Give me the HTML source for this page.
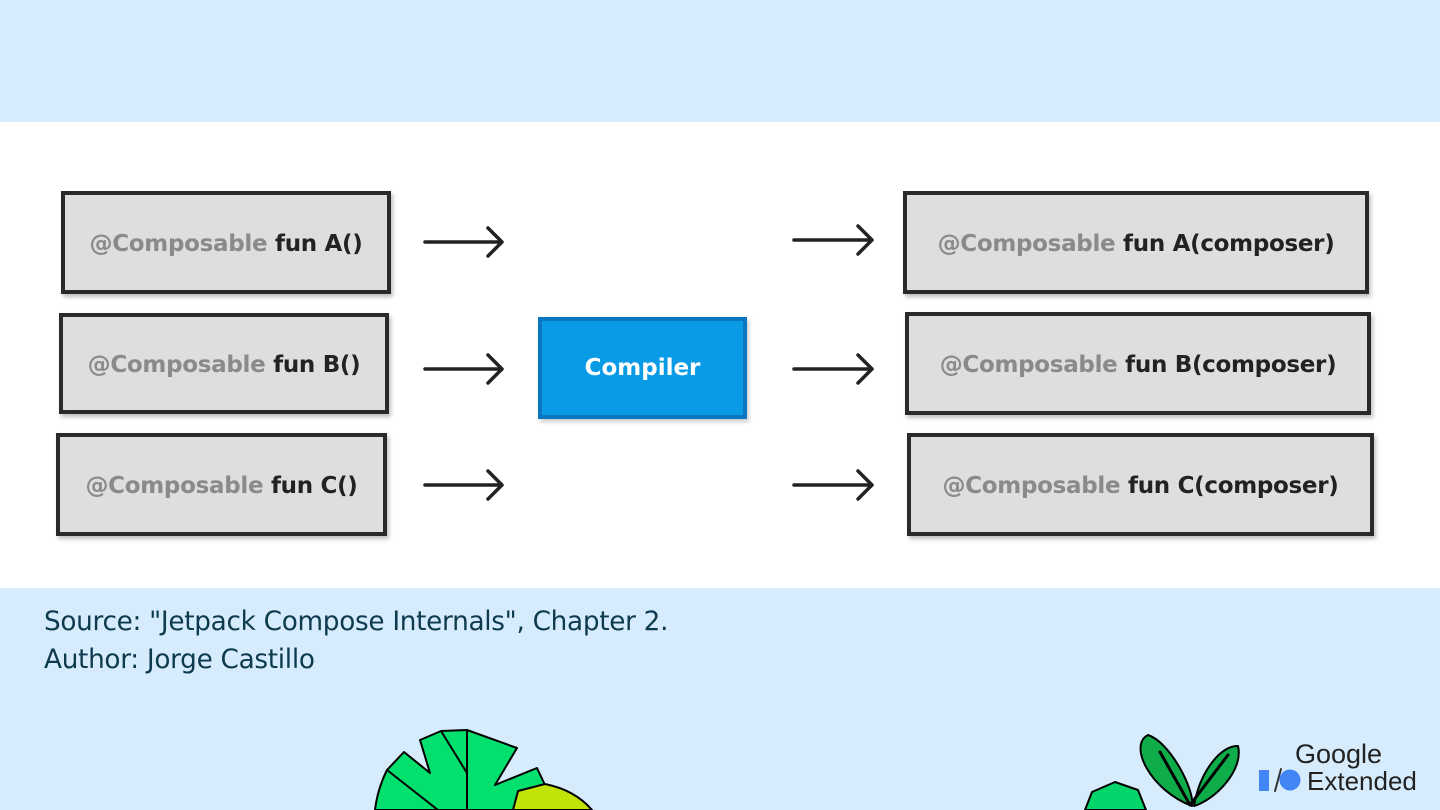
<!DOCTYPE html>
<html><head><meta charset="utf-8"><style>
*{margin:0;padding:0;box-sizing:border-box}
body{width:1440px;height:810px;background:#d6ecfd;position:relative;overflow:hidden;font-family:"DejaVu Sans","Liberation Sans",sans-serif}
.white{position:absolute;left:0;top:122px;width:1440px;height:466px;background:#fff}
.box{position:absolute;background:#dedede;border:4px solid #2a2a2a;box-shadow:2px 3px 4px rgba(0,0,0,.25);display:flex;align-items:center;justify-content:center;font-weight:bold;font-size:23px;color:#222;letter-spacing:-0.3px;padding-top:3px}
.box .g{color:#8a8a8a}
.comp{position:absolute;left:538px;top:317px;width:209px;height:102px;background:#0a9be6;border:4px solid #0877bf;box-shadow:2px 3px 4px rgba(0,0,0,.2);color:#fff;font-weight:bold;font-size:23px;display:flex;align-items:center;justify-content:center}
.src{position:absolute;left:44px;font-family:"DejaVu Sans","Liberation Sans",sans-serif;font-size:26.3px;color:#0e3a4e;letter-spacing:-0.3px}
</style></head><body>
<div class="white"></div>
<div class="box" style="left:61px;top:191px;width:330px;height:103px"><span><span class="g">@Composable</span> fun A()</span></div>
<div class="box" style="left:59px;top:313px;width:330px;height:101px"><span><span class="g">@Composable</span> fun B()</span></div>
<div class="box" style="left:56px;top:433px;width:331px;height:103px"><span><span class="g">@Composable</span> fun C()</span></div>
<div class="box" style="left:903px;top:191px;width:466px;height:103px"><span><span class="g">@Composable</span> fun A(composer)</span></div>
<div class="box" style="left:905px;top:312px;width:466px;height:103px"><span><span class="g">@Composable</span> fun B(composer)</span></div>
<div class="box" style="left:907px;top:433px;width:467px;height:103px"><span><span class="g">@Composable</span> fun C(composer)</span></div>
<div class="comp">Compiler</div>
<svg width="1440" height="810" style="position:absolute;left:0;top:0" fill="none" stroke="#222" stroke-width="3.5" stroke-linecap="round" stroke-linejoin="round">
<g>
<path d="M425 242H502M488 228L502 242L488 256"/>
<path d="M425 369H502M488 355L502 369L488 383"/>
<path d="M425 485H502M488 471L502 485L488 499"/>
<path d="M794 240H872M858 226L872 240L858 254"/>
<path d="M794 369H872M858 355L872 369L858 383"/>
<path d="M794 485H872M858 471L872 485L858 499"/>
</g>
<g stroke="#000" stroke-width="2">
<path d="M375 810 A120 120 0 0 1 387 770 L404 752 L430 773 L420 740 L441 731 L467 730 L517 748 L495 785 L537 768 L545 785 L540 810Z" fill="#03e06e"/>
<path d="M387 770 L438 810 M441 731 L467 773 M467 730 V810" />
<path d="M513 810 L518 791 L545 784 Q575 790 592 810Z" fill="#c1e305"/>
<path d="M1085 810 L1092 792 L1115 782 L1138 790 L1146 810Z" fill="#03d56a"/>
<path d="M1192 806 C1150 790 1128 745 1148 735 C1170 742 1195 790 1192 806Z" fill="#0fad4a"/>
<path d="M1194 806 C1200 770 1222 745 1238 746 C1244 770 1215 800 1194 806Z" fill="#0fad4a"/>
<path d="M1160 752 L1190 805 L1228 755" stroke-width="3"/>
</g>
<rect x="1259" y="770" width="10" height="21" fill="#4285f4" stroke="none"/>
<circle cx="1290" cy="780" r="10.5" fill="#4285f4" stroke="none"/>
<path d="M1275 791 L1281 769" stroke="#333" stroke-width="2"/>
<text x="1295" y="763" font-family="Liberation Sans,sans-serif" font-size="27" fill="#222" stroke="none">Google</text>
<text x="1307" y="790" font-family="Liberation Sans,sans-serif" font-size="26" fill="#222" stroke="none">Extended</text>
</svg>
<div class="src" style="top:607px">Source: "Jetpack Compose Internals", Chapter 2.</div>
<div class="src" style="top:645px">Author: Jorge Castillo</div>
</body></html>
